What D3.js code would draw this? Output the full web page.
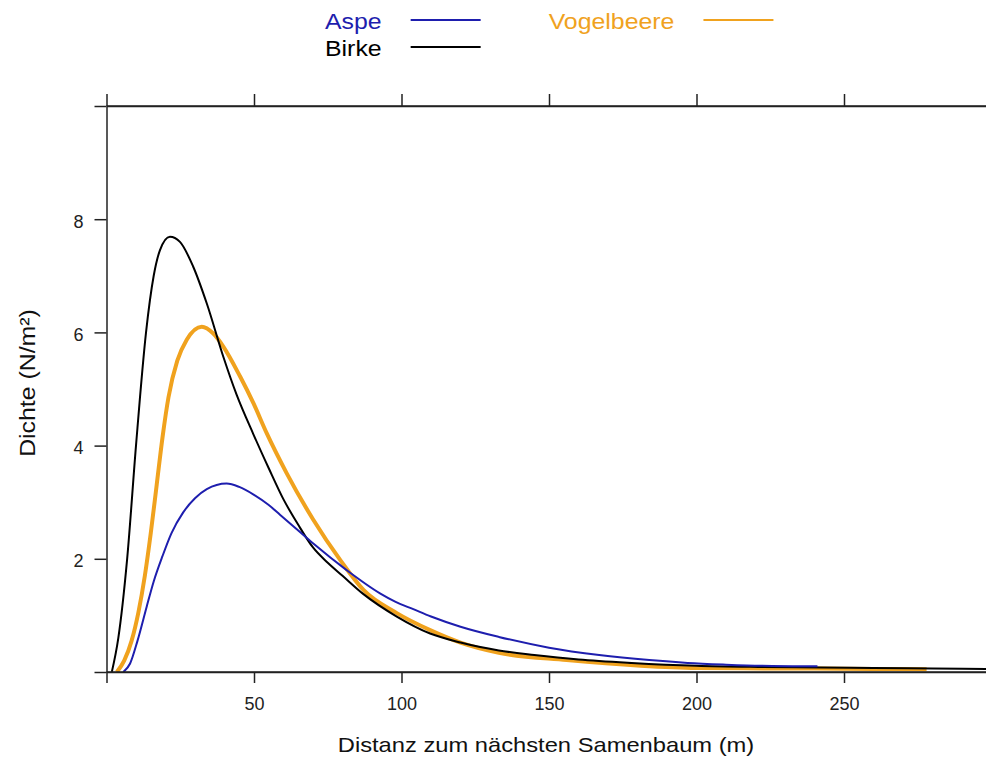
<!DOCTYPE html>
<html>
<head>
  <meta charset="UTF-8">
  <style>
    body { margin: 0; background: #fff; }
    svg { display: block; font-family: "Liberation Sans", Arial, sans-serif; }
  </style>
</head>
<body>
<svg></svg>
<script src="https://d3js.org/d3.v7.min.js"></script>
<script>

let width = 986, height = 760;

// series names + colours
let seriesNames = ["Aspe", "Birke", "Vogelbeere"];
let seriesColors = ["#1e1eae", "#000000", "#f0a21e"];
let seriesWidths = [2, 2, 4];

// density curves (distance in m, density N/m2)
let aspeDist = [5.7, 8, 10.5, 13.6, 16, 19, 22, 26, 30, 34, 40.7, 45, 50, 55, 58.8, 65, 70.1, 81.4, 92.7, 98, 104, 110, 120, 133, 150, 167, 184, 197, 210, 222, 241];
let aspeDens = [0, 0.15, 0.55, 1.15, 1.6, 2.05, 2.45, 2.82, 3.07, 3.23, 3.33, 3.27, 3.13, 2.95, 2.78, 2.5, 2.27, 1.80, 1.39, 1.24, 1.11, 0.98, 0.80, 0.62, 0.43, 0.30, 0.21, 0.16, 0.13, 0.11, 0.10];

let birkeDist = [1.8, 4, 7, 10, 13.4, 16, 18.1, 21.5, 24.9, 29.4, 34, 39.6, 44.1, 49.8, 55, 60, 65, 70, 75, 80, 87, 98.4, 109.7, 120, 133, 145, 160, 178, 200, 221, 242, 260, 280, 305];
let birkeDens = [0, 0.6, 2.0, 4.0, 6.0, 7.0, 7.45, 7.69, 7.6, 7.16, 6.51, 5.57, 4.9, 4.2, 3.6, 3.05, 2.6, 2.2, 1.93, 1.7, 1.38, 0.98, 0.68, 0.52, 0.38, 0.30, 0.22, 0.16, 0.11, 0.09, 0.08, 0.07, 0.06, 0.05];

let vogelDist = [3.5, 6, 8.5, 10.8, 13, 15, 17, 19, 21, 24, 27.2, 32.3, 36.2, 39.6, 45.3, 49.8, 54.3, 61.1, 70.1, 79.2, 87.1, 98.4, 109.7, 120, 133, 156, 181, 200, 216, 240, 260, 278];
let vogelDens = [0, 0.2, 0.55, 1.05, 1.7, 2.45, 3.3, 4.15, 4.85, 5.5, 5.87, 6.10, 5.98, 5.75, 5.22, 4.75, 4.22, 3.51, 2.69, 1.98, 1.45, 1.04, 0.74, 0.52, 0.34, 0.21, 0.11, 0.07, 0.065, 0.06, 0.055, 0.05];

let xTicks = [0, 50, 100, 150, 200, 250];
let yTicks = [0, 2, 4, 6, 8, 10];

let xTitle = "Distanz zum nächsten Samenbaum (m)";
let yTitle = "Dichte (N/m²)";

let svg = d3.select("svg")
    .attr("width", width)
    .attr("height", height)

let panelLeft = 106.5, panelTop = 106, panelBottom = 672;

let x = d3.scaleLinear().domain([0, 300]).range([panelLeft, panelLeft + 300 * 2.95]);
let y = d3.scaleLinear().domain([0, 10]).range([panelBottom, panelTop]);

let axisColor = "#222";
let stretch = 1.13;  // text in the picture is a bit wider than Arial

svg.append("clipPath").attr("id", "panel")
    .append("rect")
    .attr("x", panelLeft).attr("y", panelTop)
    .attr("width", width - panelLeft + 20).attr("height", panelBottom - panelTop);

// curves
let series = [
    {name: seriesNames[0], dist: aspeDist, dens: aspeDens},
    {name: seriesNames[1], dist: birkeDist, dens: birkeDens},
    {name: seriesNames[2], dist: vogelDist, dens: vogelDens}
];

let line = d3.line()
    .x(d => x(d[0]))
    .y(d => y(d[1]))
    .curve(d3.curveMonotoneX);

// orange first, then black, then blue on top
let order = [2, 1, 0];
svg.append("g")
    .attr("clip-path", "url(#panel)")
    .selectAll("path")
    .data(order)
    .enter()
    .append("path")
    .attr("d", i => line(series[i].dist.map((d, k) => [d, series[i].dens[k]])))
    .attr("fill", "none")
    .attr("stroke", i => seriesColors[i])
    .attr("stroke-width", i => seriesWidths[i])
    .attr("stroke-linejoin", "round");

// axes
let xAxis = svg.append("g")
    .attr("transform", "translate(0," + panelBottom + ")")
    .call(d3.axisBottom(x).tickValues(xTicks).tickSize(11).tickSizeOuter(0).tickPadding(14)
        .tickFormat(d => d === 0 ? "" : d));

let xTop = svg.append("g")
    .attr("transform", "translate(0," + panelTop + ")")
    .call(d3.axisTop(x).tickValues(xTicks).tickSize(12).tickSizeOuter(0).tickFormat(""));

let yAxis = svg.append("g")
    .attr("transform", "translate(" + panelLeft + ",0)")
    .call(d3.axisLeft(y).tickValues(yTicks).tickSize(12).tickSizeOuter(0).tickPadding(11)
        .tickFormat(d => (d === 0 || d === 10) ? "" : d));

[xAxis, xTop, yAxis].forEach(g => {
    g.selectAll("path, line").attr("stroke", axisColor).attr("stroke-width", 1.5);
    g.selectAll("text")
        .attr("fill", "#222")
        .style("font-size", "18px")
        .style("font-family", "'Liberation Sans', Arial, sans-serif");
});
yAxis.selectAll("text").attr("dy", "0.45em");

// top and bottom border lines run past the window edge
[panelTop, panelBottom].forEach(v => {
    svg.append("line")
        .attr("x1", panelLeft).attr("x2", width + 10)
        .attr("y1", v).attr("y2", v)
        .attr("stroke", axisColor).attr("stroke-width", 1.5);
});

// axis titles
svg.append("text")
    .attr("transform", "translate(546,752) scale(" + stretch + ",1)")
    .attr("text-anchor", "middle")
    .style("font-size", "21px")
    .attr("fill", "#111")
    .text(xTitle);

svg.append("text")
    .attr("transform", "translate(35,383) rotate(-90) scale(" + stretch + ",1)")
    .attr("text-anchor", "middle")
    .style("font-size", "22px")
    .attr("fill", "#111")
    .text(yTitle);

// legend: two columns, filled column-wise
let legendX = 325, legendY = 29, rowGap = 27, colGap = 68, lineGap = 29, lineLen = 70;
let legend = svg.append("g");
let colStart = legendX;
let nCols = Math.ceil(seriesNames.length / 2);
for (let c = 0; c < nCols; c++) {
    let idx = [c * 2, c * 2 + 1].filter(i => i < seriesNames.length);
    let maxW = 0;
    idx.forEach((i, r) => {
        let t = legend.append("text")
            .attr("transform", "translate(" + colStart + "," + (legendY + r * rowGap) + ") scale(" + stretch + ",1)")
            .style("font-size", "22px")
            .attr("fill", seriesColors[i])
            .text(seriesNames[i]);
        maxW = Math.max(maxW, t.node().getComputedTextLength() * stretch);
    });
    let lx = colStart + maxW + lineGap;
    idx.forEach((i, r) => {
        legend.append("line")
            .attr("x1", lx).attr("x2", lx + lineLen)
            .attr("y1", legendY + r * rowGap - 9).attr("y2", legendY + r * rowGap - 9)
            .attr("stroke", seriesColors[i])
            .attr("stroke-width", 2);
    });
    colStart = lx + lineLen + colGap;
}

</script>
</body>
</html>
